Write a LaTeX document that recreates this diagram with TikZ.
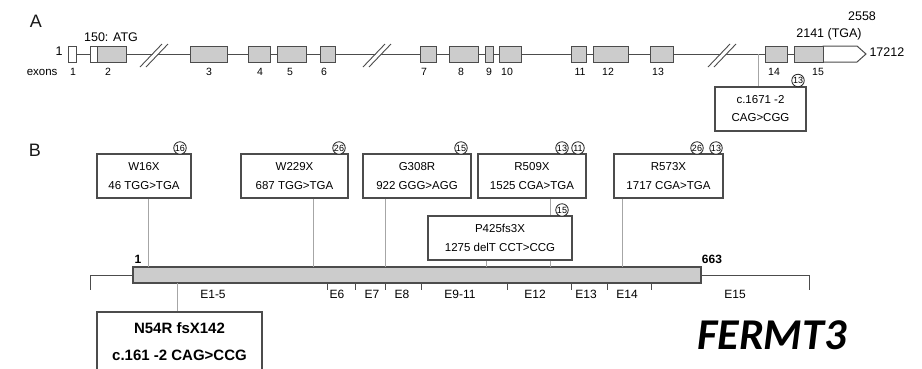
\documentclass[tikz,border=0pt]{standalone}
\usepackage{fontspec}
\setmainfont{Liberation Sans}
\newfontfamily\calibfont{Carlito}
\begin{document}
\begin{tikzpicture}[x=1pt,y=-1pt,
  gline/.style={draw=black!70, line width=1pt},
  exon/.style={draw=black!70, fill=black!20, line width=1pt, minimum height=16pt, inner sep=0pt, anchor=west},
  wexon/.style={exon, fill=white},
  brk/.style={draw=black!70, line width=0.9pt, fill=white},
  exlab/.style={font=\fontsize{10.5}{10.5}\selectfont, text=black},
  toplab/.style={font=\fontsize{12.5}{12.5}\selectfont, text=black},
  mutbox/.style={draw=black!70, line width=1.1pt, align=center, inner sep=0pt, minimum height=44pt, font=\fontsize{11.5}{19}\selectfont, text=black},
  cnum/.style={circle, draw=black!85, fill=white, line width=0.8pt, inner sep=0pt, minimum size=12.5pt, font=\fontsize{9}{9}\selectfont},
  conn/.style={draw=black!35, line width=0.7pt},
  tick/.style={draw=black!70, line width=1pt},
  elab/.style={font=\fontsize{12}{12}\selectfont, text=black},
  panel/.style={font=\fontsize{18}{18}\selectfont, text=black!90}
]
\useasboundingbox (0,0) rectangle (922,368);

% ---------------- Panel A ----------------
\node[panel] (pA) at (36,21) {A};
\draw[gline] (76,54) -- (794,54);
% breaks
\path[fill=white] (141,66) -- (162.5,45) -- (167,45) -- (145.5,66) -- cycle;
\draw[brk] (140,67) -- (162,44) (146,67) -- (168,44);
\path[fill=white] (364,66) -- (385.5,45) -- (390,45) -- (368.5,66) -- cycle;
\draw[brk] (363,67) -- (385,44) (369,67) -- (391,44);
\path[fill=white] (709,66) -- (730.5,45) -- (735,45) -- (713.5,66) -- cycle;
\draw[brk] (708,67) -- (730,44) (714,67) -- (736,44);

\node[wexon, minimum width=8pt] (e1) at (68,54) {};
\node[wexon, minimum width=7pt] (e2a) at (90,54) {};
\node[exon, minimum width=29pt] (e2) at (97,54) {};
\foreach \n/\a/\b in {3/190/227,4/248/270,5/277/306,6/320/335,7/420/436,8/449/478,9/485/493,10/499/521,11/571/586,12/593/628,13/650/673,14/765/787}{
  \node[exon, minimum width={\b pt-\a pt}] (e\n) at (\a,54) {};
}
\draw[draw=black!70, line width=1pt, fill=white] (823,46) -- (857,46) -- (866,54) -- (857,62) -- (823,62) -- cycle;
\node[exon, minimum width=29pt] (e15) at (794,54) {};

\node[toplab, anchor=east] (one) at (66,51) {1};
\node[toplab] (atg) at (111,37) {150: ATG};
\node[toplab] (tga) at (829,34) {2141 (TGA)};
\node[toplab] (l2558) at (862,16) {2558};
\node[toplab, anchor=west] (l17212) at (866,52) {17212};

\node[exlab, font=\fontsize{11.5}{11.5}\selectfont, anchor=east] (exons) at (61,72) {exons};
\foreach \n/\x in {1/73,2/108,3/209,4/260,5/290,6/324,7/424,8/461,9/489,10/507,11/580,12/608,13/658,14/774,15/818}{
  \node[exlab] (lx\n) at (\x,72) {\n};
}

\coordinate (pa) at (758,54);
\node[mutbox, minimum width=91pt, font=\fontsize{11.5}{18}\selectfont] (c1671) at (760.5,109) {c.1671 -2\\CAG>CGG};
\draw[conn] (pa) -- (pa |- c1671.north);
\node[cnum] (ca13) at (798,80.5) {13};

% ---------------- Panel B ----------------
\node[panel] (pB) at (35,150) {B};

% bar
\node[draw=black!70, fill=black!20, line width=1.2pt, minimum width=568pt, minimum height=16pt, inner sep=0pt] (bar) at (417,275) {};
\draw[tick] (bar.west) -- (90,275) -- (90,290);
\draw[tick] (bar.east) -- (809,275) -- (809,290);
\node[font=\bfseries\fontsize{12}{12}\selectfont, text=black] (b1) at (138,259) {1};
\node[font=\bfseries\fontsize{12}{12}\selectfont, text=black] (b663) at (712,259) {663};

\foreach \x in {327,355,385,421,507,571,607,651}{
  \draw[tick] (\x,283) -- (\x,290);
}
\foreach \t/\x in {E1-5/213,E6/337,E7/372,E8/402,E9-11/460,E12/535,E13/586,E14/627,E15/735}{
  \node[elab] at (\x,294) {\t};
}

% mutation boxes
\node[mutbox, minimum width=94pt] (w16x) at (144,176) {W16X\\46 TGG>TGA};
\node[mutbox, minimum width=107pt] (w229x) at (294.5,176) {W229X\\687 TGG>TGA};
\node[mutbox, minimum width=108pt] (g308r) at (417,176) {G308R\\922 GGG>AGG};
\node[mutbox, minimum width=108pt] (r509x) at (532,176) {R509X\\1525 CGA>TGA};
\node[mutbox, minimum width=109pt] (r573x) at (668.5,176) {R573X\\1717 CGA>TGA};
\node[mutbox, minimum width=144pt] (p425) at (500,238) {P425fs3X\\1275 delT CCT>CCG};

\coordinate (q1) at (148,267);
\coordinate (q2) at (313,267);
\coordinate (q3) at (385,267);
\coordinate (q4) at (486,267);
\coordinate (q5) at (550,267);
\coordinate (q6) at (622,267);
\draw[conn] (w16x.south -| q1) -- (q1);
\draw[conn] (w229x.south -| q2) -- (q2);
\draw[conn] (g308r.south -| q3) -- (q3);
\draw[conn] (r509x.south -| q5) -- (p425.north -| q5);
\draw[conn] (p425.south -| q5) -- (q5);
\draw[conn] (p425.south -| q4) -- (q4);
\draw[conn] (r573x.south -| q6) -- (q6);

\node[cnum] (c16) at (180,148) {16};
\node[cnum] (c26a) at (339,148) {26};
\node[cnum] (c15a) at (461,148) {15};
\node[cnum] (c13a) at (562,148) {13};
\node[cnum] (c11) at (578,148) {11};
\node[cnum] (c15b) at (562,210) {15};
\node[cnum] (c26b) at (697,148) {26};
\node[cnum] (c13b) at (716,148) {13};

% N54R
\node[mutbox, minimum width=165pt, minimum height=60pt, font=\bfseries\fontsize{15}{27}\selectfont] (n54r) at (179.5,342) {N54R fsX142\\c.161 -2 CAG>CCG};
\coordinate (q0) at (177,283);
\draw[conn] (q0) -- (q0 |- n54r.north);

% title
\node[font=\calibfont\bfseries\itshape\fontsize{44}{44}\selectfont] (title) at (772,335) {FERMT3};
\end{tikzpicture}
\end{document}
